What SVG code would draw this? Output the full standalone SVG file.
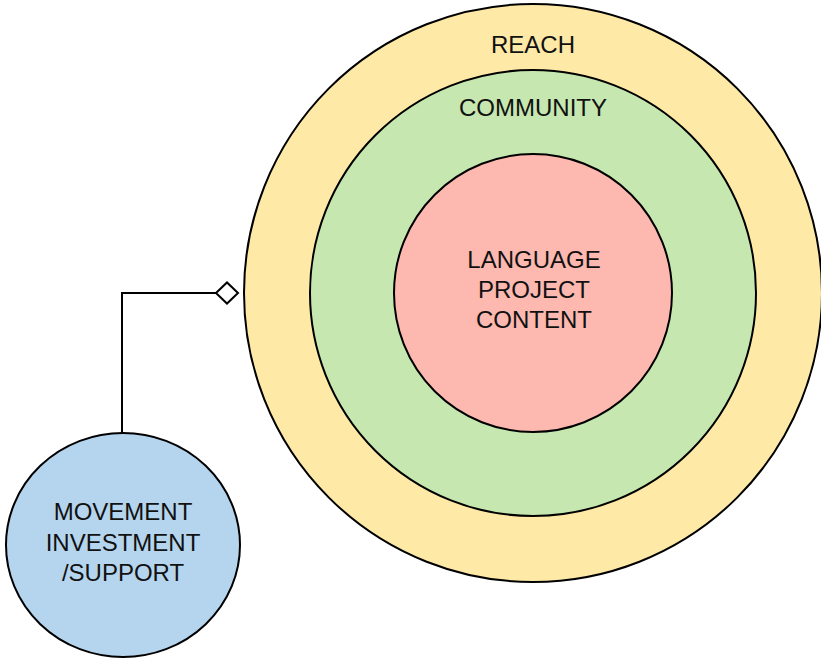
<svg xmlns="http://www.w3.org/2000/svg" width="821" height="660" viewBox="0 0 821 660">
<style>
.n{stroke:#000;stroke-width:2}
.t{font-family:"Liberation Sans",Arial,sans-serif;font-size:24px;fill:#111;text-anchor:middle}
.c{fill:none;stroke:#000;stroke-width:2}
</style>
<rect width="821" height="660" fill="#fff"/>
<g id="reach"><circle class="n" cx="533" cy="293" r="289" fill="#FEE9A7"/><text class="t" x="533" y="53">REACH</text></g>
<g id="community"><circle class="n" cx="533" cy="293" r="223" fill="#C6E7AF"/><text class="t" x="533" y="116">COMMUNITY</text></g>
<g id="content"><circle class="n" cx="533" cy="293" r="139" fill="#FDB8AF"/><text class="t"><tspan x="534" y="268">LANGUAGE</tspan><tspan x="534" y="298">PROJECT</tspan><tspan x="534" y="328">CONTENT</tspan></text></g>
<g id="movement"><ellipse class="n" cx="123" cy="545" rx="117" ry="112" fill="#B5D5EF"/><text class="t"><tspan x="123" y="520">MOVEMENT</tspan><tspan x="123" y="551">INVESTMENT</tspan><tspan x="123" y="581">/SUPPORT</tspan></text></g>
<g id="connectors"><path class="c" d="M122 433 V293 H216"/><path class="c" d="M216 293 L227 282.5 L238 293 L227 303.5 Z" fill="#fff"/></g>
</svg>
